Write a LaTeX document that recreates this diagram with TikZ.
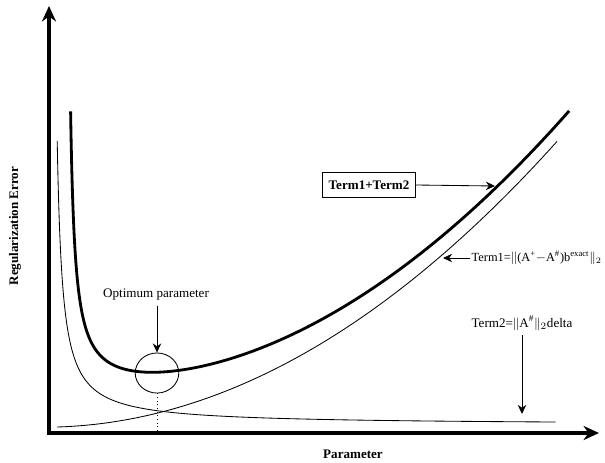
\documentclass[tikz,border=0pt]{standalone}
\usepackage{fontspec}
\setmainfont{Liberation Serif}
\usetikzlibrary{arrows.meta,shapes.geometric}

\begin{document}
\begin{tikzpicture}[x=0.025cm, y=-0.025cm, font=\fontsize{9.3}{11}\selectfont, >=Stealth,
  lbl/.style={font=\fontsize{9.3}{11}\selectfont\bfseries},
  ax/.style={line width=2.8pt,line cap=rect,-{Stealth[length=11pt,width=10pt]}},
  sumline/.style={line width=2pt},
  termline/.style={line width=0.6pt},
  ptr/.style={line width=0.6pt,-{Stealth[length=6.5pt,width=6pt]}},
]
\useasboundingbox (0,0) rectangle (605,462);

% Axes
\coordinate (orig) at (49,433);
\coordinate (ytip) at (49,6);
\coordinate (xtip) at (599,433);
\draw[ax] (orig) -- (ytip);
\draw[ax] (orig) -- (xtip);
\node[lbl,rotate=90] (ylbl) at (15,226) {Regularization Error};
\node[lbl] (xlbl) at (353,454) {Parameter};

% Term2 -- decreasing curve, 8 + 1506/(x-51.9)
\draw[termline] plot[smooth,domain=1.668:6.223,samples=120]
  ({51.9+exp(\x)},{433-8-1506/exp(\x)});

% Term1 -- increasing curve
\draw[termline] plot[smooth,domain=57:557,samples=100]
  (\x,{433-6-0.03*(\x-57)-(0.0329*(\x-57))^2});

% Term1+Term2 -- total error
\draw[sumline] plot[smooth,domain=1.526:6.223,samples=150]
  ({66+exp(\x)},{433-39-1300/exp(\x)-(0.034*(66+exp(\x)-76.5))^2});

% Optimum parameter
\node[draw,ellipse,line width=0.6pt,minimum width=31pt,minimum height=28.5pt,inner sep=0pt] (opt) at (157,373) {};
\node (optlbl) at (156,295) {Optimum parameter};
\draw[ptr] (optlbl.south -| opt.north) -- (opt.north);
\draw[dotted,line width=0.6pt] (opt.south) -- (opt.south |- orig);

% Labels of the curves
\node[lbl,draw,line width=0.6pt,minimum width=66.5pt,minimum height=17.7pt] (sum) at (369,185) {Term1+Term2};
\coordinate (sumtip) at (495,186);
\draw[ptr] (sum.east) -- (sumtip);

\node[anchor=west,inner sep=1pt,font=\fontsize{8.8}{10}\selectfont] (t1) at (470,258)
  {Term1=$\|$(A\textsuperscript{+}$-$A\textsuperscript{\#})b\textsuperscript{exact}$\|_2$};
\coordinate (t1tip) at (443,258);
\draw[ptr] (t1.west) -- (t1tip);

\node (t2) at (522,323) {Term2=$\|$A\textsuperscript{\#}$\|_2$delta};
\coordinate (t2tip) at (522,414);
\draw[ptr] (t2.south) -- (t2tip);

\end{tikzpicture}
\end{document}
